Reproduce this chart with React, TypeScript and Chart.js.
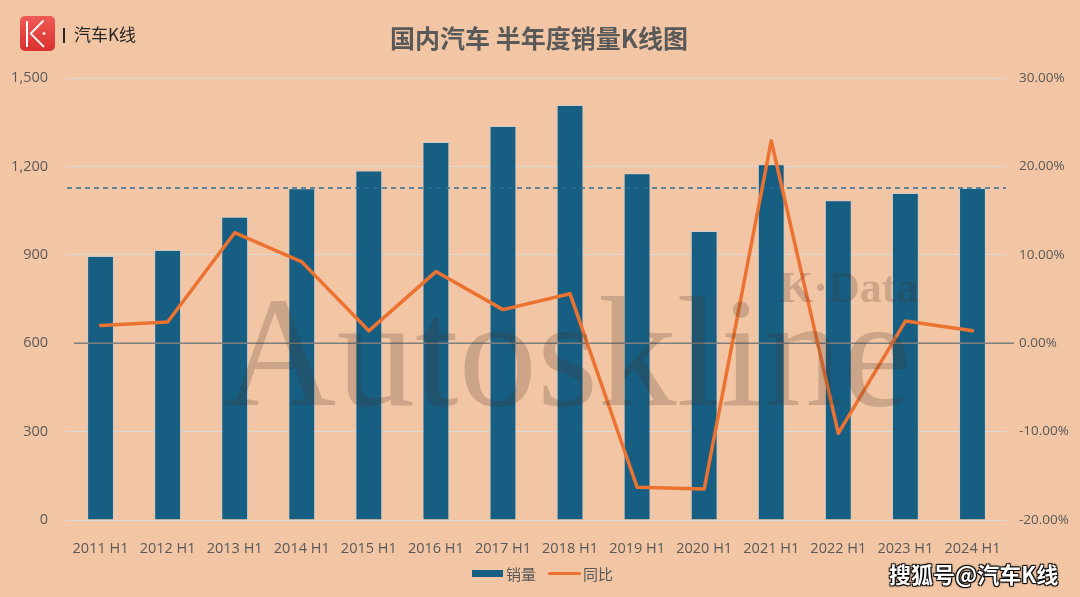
import React, { useEffect, useRef } from "react";
import { Chart, registerables } from "chart.js";

Chart.register(...registerables);

const categories = [
  "2011 H1", "2012 H1", "2013 H1", "2014 H1", "2015 H1", "2016 H1", "2017 H1",
  "2018 H1", "2019 H1", "2020 H1", "2021 H1", "2022 H1", "2023 H1", "2024 H1",
];
// 销量 (左轴)
const salesValues = [896, 916, 1029, 1126, 1186, 1283, 1337, 1408, 1177, 981, 1207, 1085, 1110, 1127];
// 同比 (右轴, %)
const yoyValues = [2.0, 2.4, 12.5, 9.2, 1.4, 8.1, 3.8, 5.6, -16.3, -16.5, 22.9, -10.2, 2.5, 1.4];
// 虚线参考水平 (2024 H1)
const referenceLevel = 1127;
const leftAxis = { min: 0, max: 1500, step: 300, zero: 600 };
const rightAxis = { min: -20, max: 30, step: 10 };

const BG = "#F2C6A4";
const BAR = "#175E83";
const ORANGE = "#EC7232";
const TICK = "#595959";

// draws the axis line and the dashed reference line right after the bars, below the YoY line
const overlayLinesPlugin = {
  id: "overlayLines",
  afterDatasetDraw(chart: any, args: any) {
    if (args.index !== 1) return;
    const { ctx, chartArea, scales } = chart;
    const y0 = scales.y.getPixelForValue(leftAxis.zero);
    const yr = scales.y.getPixelForValue(referenceLevel);
    ctx.save();
    ctx.strokeStyle = "#7F7F7F";
    ctx.lineWidth = 1.5;
    ctx.beginPath();
    ctx.moveTo(chartArea.left + 7, y0);
    ctx.lineTo(chartArea.right + 8, y0);
    ctx.stroke();
    ctx.strokeStyle = "#2F6F98";
    ctx.lineWidth = 1.5;
    ctx.setLineDash([5, 4]);
    ctx.beginPath();
    ctx.moveTo(chartArea.left, yr);
    ctx.lineTo(chartArea.right, yr);
    ctx.stroke();
    ctx.restore();
  },
};

const watermarkPlugin = {
  id: "watermark",
  afterDraw(chart: any) {
    const { ctx } = chart;
    ctx.save();
    ctx.fillStyle = "rgba(70,48,36,0.22)";
    ctx.textBaseline = "alphabetic";
    ctx.textAlign = "left";
    ctx.font = '157px "Liberation Serif"';
    ctx.fillText("Autoskline", 223, 405);
    ctx.font = 'bold 44px "Liberation Serif"';
    ctx.fillText("K·Data", 779, 302);
    ctx.restore();
  },
};

function ChartCanvas() {
  const ref = useRef<HTMLCanvasElement | null>(null);
  useEffect(() => {
    document.body.style.margin = "0";
    const canvas = ref.current;
    if (!canvas) return;
    const chart = new Chart(canvas, {
      type: "bar",
      data: {
        labels: categories,
        datasets: [
          {
            type: "line",
            label: "同比",
            data: yoyValues,
            yAxisID: "y1",
            borderColor: ORANGE,
            backgroundColor: ORANGE,
            borderWidth: 3.5,
            pointRadius: 0,
            tension: 0,
            borderJoinStyle: "round",
            borderCapStyle: "round",
            order: 0,
          } as any,
          {
            type: "bar",
            label: "销量",
            data: salesValues,
            yAxisID: "y",
            backgroundColor: BAR,
            borderColor: "rgba(190,205,215,0.7)",
            borderWidth: 1,
            categoryPercentage: 1,
            barPercentage: 0.4,
            order: 1,
          } as any,
        ],
      },
      options: {
        animation: false,
        responsive: false,
        maintainAspectRatio: false,
        layout: { padding: { left: 0, right: 0, top: 78, bottom: 37 } },
        plugins: {
          legend: { display: false },
          tooltip: { enabled: false },
          title: { display: false },
        },
        scales: {
          x: {
            grid: { display: false },
            border: { display: false },
            ticks: {
              color: TICK,
              font: { family: "Open Sans", size: 14.5 },
              padding: 12,
              maxRotation: 0,
              autoSkip: false,
            },
            afterFit(scale: any) {
              scale.height = 40;
            },
          },
          y: {
            position: "left",
            min: leftAxis.min,
            max: leftAxis.max,
            border: { display: false },
            grid: {
              drawTicks: false,
              color: (c: any) => (c.tick && c.tick.value === leftAxis.zero ? "rgba(0,0,0,0)" : "#D9D9D9"),
              lineWidth: 1,
            },
            ticks: {
              stepSize: leftAxis.step,
              color: TICK,
              padding: 19,
              font: { family: "Open Sans", size: 14.5 },
              callback: (v: any) => Number(v).toLocaleString("en-US"),
            },
            afterFit(scale: any) {
              scale.width = 67;
            },
          },
          y1: {
            position: "right",
            min: rightAxis.min,
            max: rightAxis.max,
            border: { display: false },
            grid: { display: false, drawTicks: false },
            ticks: {
              stepSize: rightAxis.step,
              color: TICK,
              padding: 13,
              font: { family: "Open Sans", size: 13.5 },
              callback: (v: any) => Number(v).toFixed(2) + "%",
            },
            afterFit(scale: any) {
              scale.width = 74;
            },
          },
        },
      } as any,
      plugins: [overlayLinesPlugin, watermarkPlugin],
    });
    return () => chart.destroy();
  }, []);
  return <canvas ref={ref} width={1080} height={597} style={{ position: "absolute", left: 0, top: 0 }} />;
}

export default function App() {
  const cjk = '"Noto Sans CJK SC", "Noto Sans", sans-serif';
  return (
    <div style={{ position: "relative", width: 1080, height: 597, background: BG, overflow: "hidden" }}>
      <ChartCanvas />
      {/* logo */}
      <svg width={35} height={35} viewBox="0 0 35 35" style={{ position: "absolute", left: 20, top: 16 }}>
        <defs>
          <linearGradient id="lg" x1="0" y1="0" x2="0" y2="1">
            <stop offset="0" stopColor="#EF5A55" />
            <stop offset="1" stopColor="#D8312E" />
          </linearGradient>
        </defs>
        <rect x={0} y={0} width={35} height={35} rx={5} fill="url(#lg)" />
        <line x1={7} y1={5} x2={7} y2={31} stroke="#fff" strokeWidth={2} />
        <polyline points="23.5,4.5 10.8,17.6 24,31" fill="none" stroke="#fff" strokeWidth={1.8} />
        <circle cx={24} cy={17.6} r={1.4} fill="#fff" />
      </svg>
      <div
        style={{
          position: "absolute", left: 63, top: 24, height: 20, lineHeight: "20px",
          fontFamily: cjk, fontSize: 17, color: "#262626", whiteSpace: "nowrap",
        }}
      >
        <span style={{ display: "inline-block", width: 2, height: 15, background: "#262626", verticalAlign: "-2px", marginRight: 9 }} />
        汽车K线
      </div>
      {/* title */}
      <div
        style={{
          position: "absolute", left: 0, width: 1078, top: 24, lineHeight: "26px", textAlign: "center",
          fontFamily: cjk, fontWeight: 700, fontSize: 25, color: "#595959", whiteSpace: "pre",
        }}
      >
        国内汽车 半年度销量K线图
      </div>
      {/* legend */}
      <div
        style={{
          position: "absolute", left: 472, top: 563, height: 20, display: "flex", alignItems: "center",
          fontFamily: cjk, fontSize: 15, color: "#595959", whiteSpace: "nowrap",
        }}
      >
        <span style={{ display: "inline-block", width: 31, height: 7, background: BAR, marginRight: 3 }} />
        <span>销量</span>
        <span style={{ display: "inline-block", width: 33, height: 3, background: ORANGE, borderRadius: 2, marginLeft: 12, marginRight: 2 }} />
        <span>同比</span>
      </div>
      {/* footer watermark */}
      <div
        style={{
          position: "absolute", left: 889, top: 560, lineHeight: "26px", fontFamily: cjk, fontWeight: 700,
          fontSize: 22, color: "#fff", whiteSpace: "nowrap",
          textShadow: "1px 1px 1px #000, -1px -1px 1px #000, 1px -1px 1px #000, -1px 1px 1px #000",
        }}
      >
        搜狐号@汽车K线
      </div>
    </div>
  );
}
